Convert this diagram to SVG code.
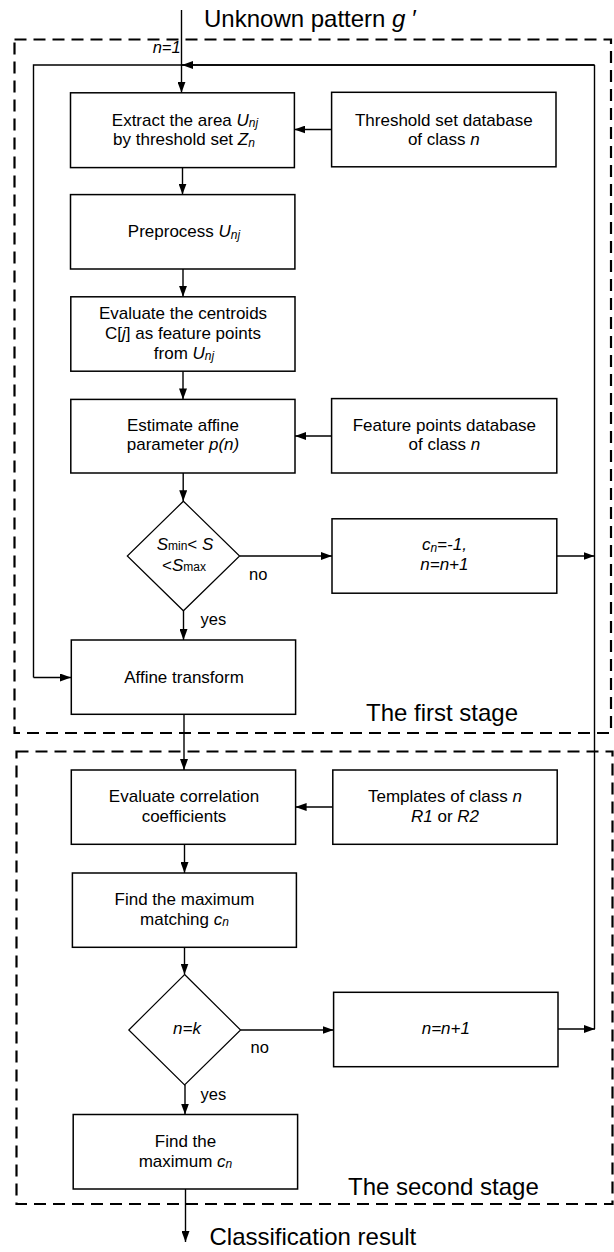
<svg xmlns="http://www.w3.org/2000/svg" width="614" height="1252" viewBox="0 0 614 1252">
<style>
  text { font-family: "Liberation Sans", Arial, Helvetica, sans-serif; fill: #000; }
  .t { font-size: 17px; text-anchor: middle; }
  .big { font-size: 24px; }
  .lbl { font-size: 16.5px; }
  .i { font-style: italic; }
  .sub { font-size: 12px; }
  .box { fill: #fff; stroke: #000; stroke-width: 1.5; }
  .dia { fill: #fff; stroke: #000; stroke-width: 1.2; }
  .dash { fill: none; stroke: #000; stroke-width: 2.2; stroke-dasharray: 12 7; }
  .ln { fill: none; stroke: #000; stroke-width: 1.4; }
  .arr { fill: none; stroke: #000; stroke-width: 1.4; marker-end: url(#ah); }
</style>
<defs>
  <marker id="ah" markerUnits="userSpaceOnUse" markerWidth="11" markerHeight="8" refX="11" refY="4" orient="auto">
    <path d="M0,0 L11,4 L0,8 z" fill="#000"/>
  </marker>
</defs>
<rect width="614" height="1252" fill="#fff"/>

<g id="stage1">
  <rect class="dash" x="14.5" y="39.5" width="596.5" height="693.5"/>
  <text class="big" x="366" y="721">The first stage</text>
</g>
<g id="stage2">
  <rect class="dash" x="16.5" y="751.5" width="596" height="452.5"/>
  <text class="big" x="348" y="1195">The second stage</text>
</g>

<g id="connectors">
  <path class="arr" d="M181.5,10 V92.8"/>
  <path class="ln" d="M594.5,65 H33.5 V677.5"/>
  <path class="arr" d="M594.5,65 H182"/>
  <path class="arr" d="M33.5,677.5 H71"/>
  <path class="ln" d="M594.5,65 V1029"/>
  <path class="arr" d="M182.5,167.6 V194.6"/>
  <path class="arr" d="M183,269 V296.8"/>
  <path class="arr" d="M183,371.2 V399.4"/>
  <path class="arr" d="M331.6,129.5 H294.4"/>
  <path class="arr" d="M183.2,473 V501.2"/>
  <path class="arr" d="M331.6,436 H295"/>
  <path class="arr" d="M239.6,556 H332"/>
  <path class="arr" d="M556.8,556 H594.5"/>
  <path class="arr" d="M183.5,610.8 V640"/>
  <path class="arr" d="M184,714.3 V770"/>
  <path class="arr" d="M332.8,807 H295.6"/>
  <path class="arr" d="M184.5,844.3 V873"/>
  <path class="arr" d="M184.5,947.3 V974.5"/>
  <path class="arr" d="M240.6,1030 H333.6"/>
  <path class="arr" d="M558,1029 H595"/>
  <path class="arr" d="M185,1085 V1114.5"/>
  <path class="arr" d="M185.5,1189 V1242"/>
  <text class="big" x="204" y="26.6">Unknown pattern <tspan class="i">g</tspan> ′</text>
  <text class="lbl i" x="152.7" y="53">n=1</text>
  <text class="lbl" x="249" y="579.5">no</text>
  <text class="lbl" x="200.5" y="625">yes</text>
  <text class="lbl" x="250.6" y="1053">no</text>
  <text class="lbl" x="200.5" y="1100">yes</text>
  <text class="big" x="209.5" y="1245">Classification result</text>
</g>

<g id="extract">
  <rect class="box" x="70.5" y="92.8" width="223.9" height="74.8"/>
  <text class="t" x="185" y="125.5">Extract the area <tspan class="i">U</tspan><tspan class="sub i" dy="1.5">nj</tspan></text>
  <text class="t" x="184" y="145">by threshold set <tspan class="i">Z</tspan><tspan class="sub i" dy="1.5">n</tspan></text>
</g>
<g id="thresholddb">
  <rect class="box" x="331.6" y="92.3" width="224.4" height="74.5"/>
  <text class="t" x="443.8" y="125.5">Threshold set database</text>
  <text class="t" x="443.8" y="145">of class <tspan class="i">n</tspan></text>
</g>
<g id="preprocess">
  <rect class="box" x="70.5" y="194.6" width="224.4" height="74.4"/>
  <text class="t" x="184" y="237">Preprocess <tspan class="i">U</tspan><tspan class="sub i" dy="1.5">nj</tspan></text>
</g>
<g id="centroids">
  <rect class="box" x="70.8" y="296.8" width="224.2" height="74.4"/>
  <text class="t" x="183" y="319">Evaluate the centroids</text>
  <text class="t" x="183" y="339">C[<tspan class="i">j</tspan>] as feature points</text>
  <text class="t" x="184" y="358.7">from <tspan class="i">U</tspan><tspan class="sub i" dy="1.5">nj</tspan></text>
</g>
<g id="estimate">
  <rect class="box" x="70.8" y="399.4" width="224.2" height="73.6"/>
  <text class="t" x="183" y="430.7">Estimate affine</text>
  <text class="t" x="183" y="450.3">parameter <tspan class="i">p(n)</tspan></text>
</g>
<g id="featuredb">
  <rect class="box" x="331.6" y="398.6" width="225.2" height="74.4"/>
  <text class="t" x="444.4" y="430.7">Feature points database</text>
  <text class="t" x="444.4" y="450.3">of class <tspan class="i">n</tspan></text>
</g>
<g id="check1">
  <path class="dia" d="M183.4,501.2 L239.6,556 L183.4,610.8 L127.3,556 Z"/>
  <text class="t" x="185" y="550"><tspan class="i">S</tspan><tspan class="sub">min</tspan>&lt; <tspan class="i">S</tspan></text>
  <text class="t" x="184" y="571">&lt;<tspan class="i">S</tspan><tspan class="sub">max</tspan></text>
</g>
<g id="reset1">
  <rect class="box" x="332" y="518.8" width="224.8" height="74.4"/>
  <text class="t i" x="444.4" y="550">c<tspan class="sub" dy="1.5">n</tspan><tspan dy="-1.5">=-1,</tspan></text>
  <text class="t i" x="444.4" y="569.7">n=n+1</text>
</g>
<g id="affine">
  <rect class="box" x="71.3" y="640" width="224.3" height="74.3"/>
  <text class="t" x="184" y="683">Affine transform</text>
</g>
<g id="correlation">
  <rect class="box" x="71.3" y="770" width="224.3" height="74.3"/>
  <text class="t" x="184" y="802.4">Evaluate correlation</text>
  <text class="t" x="184" y="822">coefficients</text>
</g>
<g id="templates">
  <rect class="box" x="332.8" y="770" width="224.4" height="74.3"/>
  <text class="t" x="445" y="802.4">Templates of class <tspan class="i">n</tspan></text>
  <text class="t" x="445" y="822"><tspan class="i">R1</tspan> or <tspan class="i">R2</tspan></text>
</g>
<g id="findmatch">
  <rect class="box" x="72.4" y="873" width="224" height="74.3"/>
  <text class="t" x="184.5" y="905">Find the maximum</text>
  <text class="t" x="184.5" y="924.6">matching  <tspan class="i">c</tspan><tspan class="sub i" dy="1.5">n</tspan></text>
</g>
<g id="check2">
  <path class="dia" d="M184.6,974.5 L240.6,1030 L184.6,1085 L128.8,1030 Z"/>
  <text class="t i" x="187" y="1034">n=k</text>
</g>
<g id="increment">
  <rect class="box" x="333.6" y="992.3" width="224.4" height="74.4"/>
  <text class="t i" x="445.8" y="1033.5">n=n+1</text>
</g>
<g id="findmax">
  <rect class="box" x="73.2" y="1114.5" width="224.4" height="74.5"/>
  <text class="t" x="185.5" y="1147">Find the</text>
  <text class="t" x="185.5" y="1166.6">maximum <tspan class="i">c</tspan><tspan class="sub i" dy="1.5">n</tspan></text>
</g>
</svg>
